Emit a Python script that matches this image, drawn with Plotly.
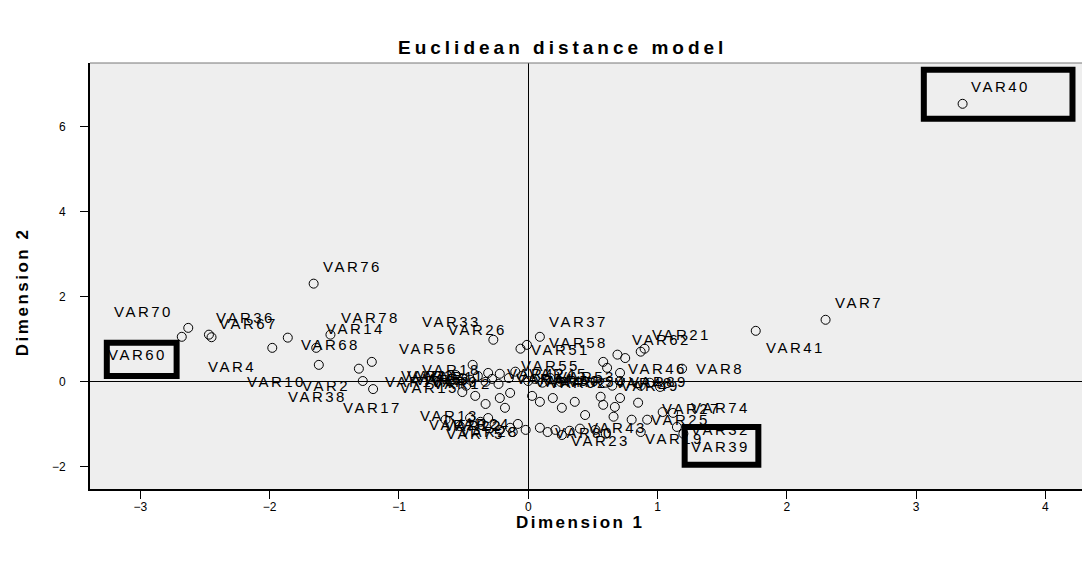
import plotly.graph_objects as go

# ---------------- data ----------------
names = [
    # left group
    "VAR60", "VAR70", "VAR36", "VAR67", "VAR4", "VAR68", "VAR14", "VAR78",
    "VAR76", "VAR10", "VAR38", "VAR56", "VAR2", "VAR17", "VAR33", "VAR26",
    # upper centre
    "VAR37", "VAR58", "VAR51", "VAR55",
    # cluster near origin (left of axis)
    "VAR1", "VAR3", "VAR5", "VAR6", "VAR9", "VAR11", "VAR12", "VAR15", "VAR16", "VAR18",
    # lower-left cluster
    "VAR13", "VAR75", "VAR20", "VAR22", "VAR24", "VAR28", "VAR29", "VAR30", "VAR31", "VAR34", "VAR35",
    # cluster at origin (right of axis)
    "VAR42", "VAR44", "VAR45", "VAR47", "VAR50", "VAR52", "VAR53", "VAR54",
    # scattered below origin
    "VAR57", "VAR59", "VAR61", "VAR63", "VAR64", "VAR65", "VAR66", "VAR69", "VAR71", "VAR72", "VAR73", "VAR77",
    # lower-centre cluster
    "VAR23", "VAR43", "VAR79", "VAR80", "VAR81", "VAR82", "VAR83", "VAR84",
    # right, above axis
    "VAR21", "VAR62", "VAR8", "VAR46", "VAR85", "VAR86", "VAR87", "VAR88",
    # right, on axis
    "VAR48", "VAR49", "VAR89", "VAR90", "VAR91", "VAR92",
    # right, below axis
    "VAR93", "VAR94", "VAR95", "VAR96", "VAR97", "VAR98", "VAR99",
    "VAR27", "VAR74", "VAR25", "VAR32", "VAR39", "VAR19",
    # outliers
    "VAR7", "VAR41", "VAR40",
]
dim1 = [
    -2.68, -2.63, -2.47, -2.45, -1.98, -1.86, -1.64, -1.53,
    -1.66, -1.62, -1.31, -1.21, -1.28, -1.20, -0.43, -0.27,
    0.09, -0.01, -0.06, -0.10,
    -0.56, -0.51, -0.45, -0.39, -0.33, -0.28, -0.23, -0.48, -0.60, -0.31,
    -0.31, -0.12, -0.26, -0.14, -0.08, -0.02, -0.45, -0.37, -0.53, -0.22, -0.64,
    -0.22, -0.15, -0.05, 0.00, 0.05, 0.11, 0.17, 0.25,
    -0.51, -0.41, -0.22, -0.14, -0.33, -0.18, 0.03, 0.09, 0.19, 0.26, 0.36, 0.44,
    0.26, 0.40, 0.09, 0.15, 0.21, 0.32, 0.52, 0.60,
    0.90, 0.87, 1.19, 0.71, 0.58, 0.69, 0.75, 0.61,
    0.60, 0.65, 0.71, 0.87, 0.94, 1.02,
    0.56, 0.71, 0.85, 0.58, 0.67, 0.66, 0.80,
    1.04, 1.12, 0.92, 1.15, 1.20, 0.87,
    2.30, 1.76, 3.36,
]
dim2 = [
    1.06, 1.27, 1.11, 1.05, 0.80, 1.04, 0.80, 1.11,
    2.31, 0.40, 0.31, 0.47, 0.02, -0.17, 0.40, 0.99,
    1.06, 0.87, 0.78, 0.24,
    0.16, 0.09, 0.05, 0.14, 0.00, 0.07, -0.05, -0.09, 0.02, 0.21,
    -0.85, -1.18, -1.01, -1.08, -0.99, -1.13, -0.85, -0.94, -1.04, -1.13, -0.89,
    0.19, 0.09, 0.14, 0.02, 0.07, -0.02, 0.09, 0.00,
    -0.24, -0.33, -0.38, -0.26, -0.52, -0.61, -0.33, -0.47, -0.38, -0.61, -0.47, -0.78,
    -1.25, -1.10, -1.08, -1.18, -1.13, -1.15, -1.13, -1.22,
    0.78, 0.71, 0.31, 0.21, 0.47, 0.64, 0.56, 0.33,
    -0.02, -0.09, 0.02, -0.09, -0.02, -0.12,
    -0.35, -0.38, -0.49, -0.54, -0.59, -0.82, -0.89,
    -0.71, -0.73, -0.89, -1.06, -1.22, -1.18,
    1.46, 1.20, 6.54,
]

x_ticks = [-3, -2, -1, 0, 1, 2, 3, 4]
y_ticks = [-2, 0, 2, 4, 6]
highlighted = ["VAR40", "VAR60", "VAR39"]

# ---------------- label placement (style): (x offset px, y offset px, anchor) ----------------
L, R = "left", "right"
A = (-6, 0, R)   # label to the left of its point
C = (6, 0, L)    # label to the right of its point
label_style = [
    (-75, -18, L), (-75, 16, L), (6, 17, L), (6, 14, L), (-65, -19, L), (12, -7, L), (9, 19, L), (10, 17, L),
    (8, 17, L), (-73, -17, L), (-72, -28, L), (26, 13, L), (-62, -4, L), (-31, -18, L), (-52, 43, L), (-46, 10, L),
    (8, 15, L), (21, 2, L), (10, -1, L), (5, 6, L),
    A, (-6, 3, R), A, (-6, -3, R), A, (-6, 2, R), A, (-6, -2, R), A, (-6, 3, R),
    (-8, 3, R), (-7, -1, R), A, (-6, 2, R), A, (-6, -2, R), None, None, None, None, None,
    C, C, (6, 2, L), C, (6, -2, L), C, (6, 2, L), C,
    None, None, None, None, None, None, None, None, None, None, None, None,
    (8, -5, L), (7, 1, L), None, C, None, None, None, None,
    (6, 14, L), (-10, 12, L), (13, 0, L), (7, 4, L), None, None, None, None,
    (8, 0, L), (8, 0, L), (8, 0, L), None, None, None,
    None, None, None, None, None, None, None,
    (-2, 4, L), (17, 5, L), (3, 0, L), (13, -3, L), (7, -13, L), (3, -6, L),
    (8, 17, L), (9, -17, L), (7, 17, L),
]
# box extents around highlighted labels, relative to the point (data units)
box_extent = {
    "VAR40": (-0.30, 0.85, -0.35, 0.80),
    "VAR60": (-0.58, -0.04, -0.92, -0.14),
    "VAR39": (0.01, 0.58, -0.73, 0.16),
}

FONT = "Liberation Sans"


def spaced(s, px):
    return f'<span style="letter-spacing:{px}px">{s}</span>'


fig = go.Figure()
fig.add_trace(go.Scatter(
    x=dim1, y=dim2, mode="markers",
    marker=dict(symbol="circle-open", size=9, color="black", line=dict(width=1)),
    cliponaxis=False, hoverinfo="text", hovertext=names, showlegend=False,
))

annotations = []
for n, xv, yv, st in zip(names, dim1, dim2, label_style):
    if st is None:
        continue
    dx, dy, anchor = st
    annotations.append(dict(
        text=spaced(n, 2.5), x=xv, y=yv, xref="x", yref="y",
        xanchor=anchor, yanchor="middle", xshift=dx, yshift=dy,
        showarrow=False, borderpad=0,
        font=dict(family=FONT, size=15, color="black"),
    ))

annotations += [
    dict(text="<b>" + spaced("Euclidean distance model", 4) + "</b>",
         xref="paper", yref="paper", x=0.473, y=1, yanchor="middle", yshift=16,
         showarrow=False, font=dict(family=FONT, size=19)),
    dict(text="<b>" + spaced("Dimension 1", 2.5) + "</b>",
         xref="paper", yref="paper", x=0.491, y=0, yanchor="middle", yshift=-33,
         showarrow=False, font=dict(family=FONT, size=17)),
    dict(text="<b>" + spaced("Dimension 2", 2.5) + "</b>",
         xref="paper", yref="paper", x=0, y=0.462, xanchor="center", xshift=-68,
         textangle=-90, showarrow=False, font=dict(family=FONT, size=17)),
]

shapes = []
for n in highlighted:
    i = names.index(n)
    dx0, dx1, dy0, dy1 = box_extent[n]
    shapes.append(dict(type="rect", xref="x", yref="y",
                       x0=dim1[i] + dx0, x1=dim1[i] + dx1,
                       y0=dim2[i] + dy0, y1=dim2[i] + dy1,
                       line=dict(color="black", width=6), fillcolor="rgba(0,0,0,0)"))
# top border of the plot frame
shapes.append(dict(type="line", xref="paper", yref="paper", x0=0, x1=1, y0=1, y1=1,
                   line=dict(color="#777777", width=1)))

fig.update_layout(
    width=1082, height=553,
    margin=dict(l=82, r=2, t=55, b=72),
    paper_bgcolor="white", plot_bgcolor="#EEEEEE",
    font=dict(family=FONT, size=12, color="black"),
    shapes=shapes,
    annotations=annotations,
    xaxis=dict(range=[-3.39, 4.33], tickvals=x_ticks, ticks="outside", ticklen=8,
               tickcolor="black", showgrid=False, zeroline=True, zerolinecolor="black",
               zerolinewidth=1, showline=True, linecolor="black", linewidth=2,
               tickfont=dict(family=FONT, size=12), ticklabelstandoff=-2),
    yaxis=dict(range=[-2.52, 7.5], tickvals=y_ticks, ticks="outside", ticklen=8,
               tickcolor="black", showgrid=False, zeroline=True, zerolinecolor="black",
               zerolinewidth=1, showline=True, linecolor="black", linewidth=2,
               tickfont=dict(family=FONT, size=12), ticklabelstandoff=12),
)

fig.write_html("out.html")
